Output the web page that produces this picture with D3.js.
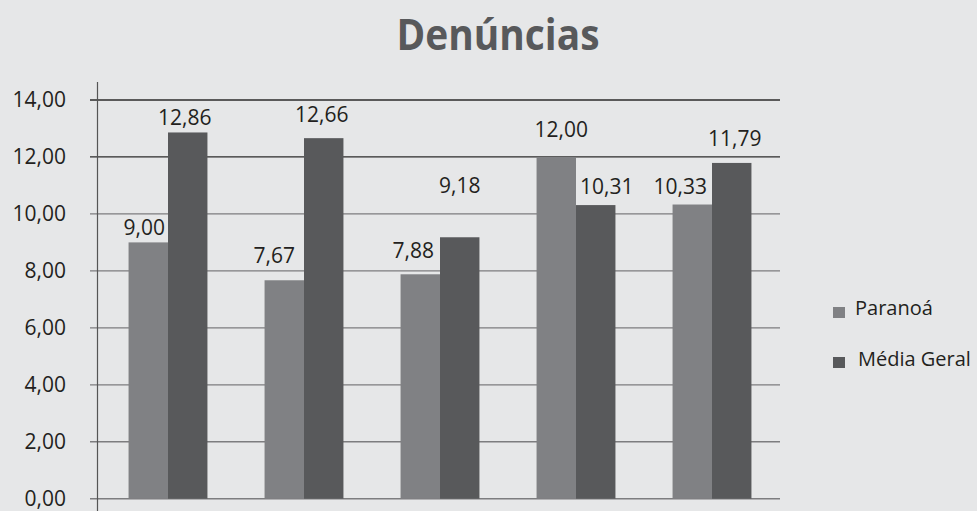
<!DOCTYPE html>
<html>
<head>
<meta charset="utf-8">
<script src="https://cdn.jsdelivr.net/npm/d3@7"></script>
<style>
  html, body { margin: 0; padding: 0; background: #e6e7e8; }
  svg { display: block; }
  text { font-family: "Open Sans", "DejaVu Sans", sans-serif; }
</style>
</head>
<body>
<svg id="chart" width="977" height="511"></svg>
<script>
// ---- data ----
const categories = ["Grupo 1", "Grupo 2", "Grupo 3", "Grupo 4", "Grupo 5"];
const seriesNames = ["Paranoá", "Média Geral"];
const paranoa = [9.00, 7.67, 7.88, 12.00, 10.33];
const mediaGeral = [12.86, 12.66, 9.18, 10.31, 11.79];
const yTicks = [0, 2, 4, 6, 8, 10, 12, 14];

// label nudges (layout only), [dx, dy] relative to bar centre / bar top
const nudgeParanoa = [[-4, -7], [-10, -17], [-7, -16], [5, -20], [-12, -11]];
const nudgeMedia = [[-3, -7], [-2, -16], [0, -44], [11, -11], [3, -17]];

const colors = ["#808184", "#58595b"];
const fmt = v => d3.format(".2f")(v).replace(".", ",");

const svg = d3.select("#chart");
const W = 977, H = 511;
const plotLeft = 98, plotRight = 780, plotTop = 100, plotBottom = 498.7;

svg.append("rect").attr("width", W).attr("height", H).attr("fill", "#e6e7e8");

// title
svg.append("text")
  .attr("x", 498).attr("y", 50)
  .attr("text-anchor", "middle")
  .attr("font-size", 43).attr("font-weight", 700)
  .attr("fill", "#58595b")
  .attr("textLength", 203).attr("lengthAdjust", "spacingAndGlyphs")
  .text("Denúncias");

const y = d3.scaleLinear().domain([0, 14]).range([plotBottom, plotTop]);
const x0 = d3.scaleBand().domain(categories).range([plotLeft + 2, plotRight]).paddingInner(0.42).paddingOuter(0.21);
const x1 = d3.scaleBand().domain(seriesNames).range([0, x0.bandwidth()]).padding(0);

// gridlines
const grid = svg.append("g");
grid.selectAll("line").data(yTicks).join("line")
  .attr("x1", 90).attr("x2", plotRight)
  .attr("y1", d => y(d)).attr("y2", d => y(d))
  .attr("stroke", d => d >= 12 ? "#2b2b2b" : "#7d7d7f")
  .attr("stroke-width", d => d === 0 ? 1.6 : 1.3);

// y axis
const yAxis = d3.axisLeft(y).tickValues(yTicks).tickFormat(fmt).tickSize(0).tickPadding(32);
const ga = svg.append("g").attr("transform", `translate(${plotLeft},0)`).call(yAxis);
ga.select(".domain").remove();
ga.selectAll("text").attr("font-size", 21).attr("fill", "#231f20")
  .attr("font-family", "'Open Sans', sans-serif");

svg.append("line").attr("x1", plotLeft - 0.5).attr("x2", plotLeft - 0.5)
  .attr("y1", 82).attr("y2", H).attr("stroke", "#555").attr("stroke-width", 1.2);

// bars
const rows = categories.map((c, i) => ({ cat: c, vals: [paranoa[i], mediaGeral[i]], nudges: [nudgeParanoa[i], nudgeMedia[i]] }));
const groups = svg.append("g").selectAll("g").data(rows).join("g")
  .attr("transform", d => `translate(${x0(d.cat)},0)`);

groups.selectAll("rect").data(d => d.vals.map((v, k) => ({ v, k })))
  .join("rect")
  .attr("x", d => x1(seriesNames[d.k]))
  .attr("width", x1.bandwidth())
  .attr("y", d => y(d.v))
  .attr("height", d => plotBottom - y(d.v))
  .attr("fill", d => colors[d.k]);

groups.selectAll("text").data(d => d.vals.map((v, k) => ({ v, k, n: d.nudges[k] })))
  .join("text")
  .attr("x", d => x1(seriesNames[d.k]) + x1.bandwidth() / 2 + d.n[0])
  .attr("y", d => y(d.v) + d.n[1])
  .attr("text-anchor", "middle")
  .attr("font-size", 21).attr("fill", "#231f20")
  .text(d => fmt(d.v));

// legend
const legend = svg.append("g");
const legY = [312, 362];
const legTx = [855, 858];
seriesNames.forEach((s, k) => {
  legend.append("rect").attr("x", 833).attr("y", legY[k] - 5).attr("width", 12).attr("height", 11).attr("fill", colors[k]);
  legend.append("text").attr("x", legTx[k]).attr("y", legY[k] + 3 + (k === 0 ? 0 : 1))
    .attr("font-size", 20).attr("fill", "#231f20").text(s);
});
</script>
</body>
</html>
